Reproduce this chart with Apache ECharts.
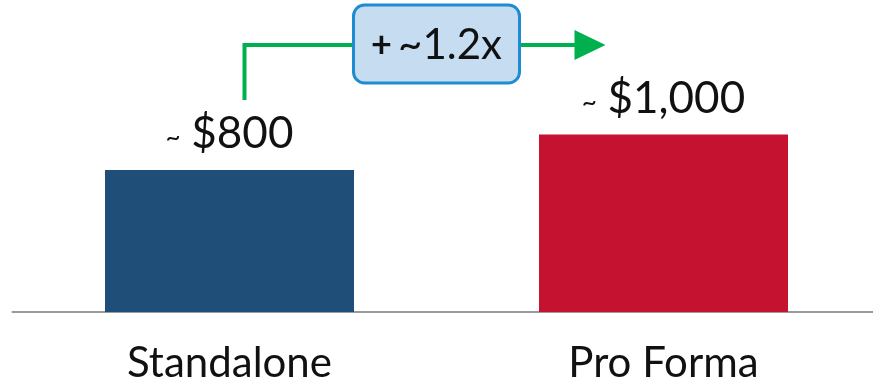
<!DOCTYPE html>
<html>
<head>
<meta charset="utf-8">
<script src="https://cdn.jsdelivr.net/npm/echarts@6.0.0/dist/echarts.min.js"></script>
<style>
  html, body { margin: 0; padding: 0; background: #fff; }
  #chart { width: 873px; height: 387px; }
</style>
</head>
<body>
<div id="chart"></div>
<script>
// data
const categories = ['Standalone', 'Pro Forma']
const values = [800, 1000]
const valueLabels = ['$800', '$1,000']
const barColors = ['#1F4E79', '#C41230']
const growthText = '~1.2x'

const FONT = 'Lato'

let myEcharts = echarts.init(document.getElementById('chart'))
myEcharts.setOption({
  animation: false,
  grid: { left: 12.5, width: 868, top: 28, bottom: 75, outerBoundsMode: 'none', containLabel: false },
  xAxis: {
    type: 'category',
    data: categories,
    axisLine: { lineStyle: { color: '#9a9a9a', width: 2 } },
    axisTick: { show: false },
    axisLabel: { fontFamily: FONT, fontSize: 42, color: '#111', margin: 30 }
  },
  yAxis: {
    type: 'value',
    min: 0,
    max: 1600,
    show: false,
    splitLine: { show: false }
  },
  series: [{
    type: 'bar',
    barWidth: 249,
    data: values.map((v, i) => ({ value: v, itemStyle: { color: barColors[i] } })),
    label: {
      show: true,
      position: 'top',
      distance: 14,
      formatter: p => '{t|~ }{v|' + valueLabels[p.dataIndex] + '}',
      rich: {
        t: { fontFamily: FONT, fontSize: 26, color: '#111', padding: [8, 4, 0, 0] },
        v: { fontFamily: FONT, fontSize: 44, color: '#111' }
      }
    }
  }]
})

// growth arrow, placed from the axis scale
const p0 = myEcharts.convertToPixel({ seriesIndex: 0 }, [0, values[0]])
const p1 = myEcharts.convertToPixel({ seriesIndex: 0 }, [1, values[1]])
const xStart = p0[0] + 15
const yStart = p0[1] - 70
const yLine = 45
const xTip = p1[0] - 58
const boxCx = (p0[0] + p1[0]) / 2 - 10
const green = '#00B04F'

myEcharts.setOption({
  graphic: [
    {
      type: 'polyline',
      shape: { points: [[xStart, yStart], [xStart, yLine], [xTip - 28, yLine]] },
      style: { stroke: green, lineWidth: 4, fill: null },
      z: 10
    },
    {
      type: 'polygon',
      shape: { points: [[xTip - 31, yLine - 15], [xTip, yLine], [xTip - 31, yLine + 15]] },
      style: { fill: green },
      z: 10
    },
    {
      type: 'rect',
      shape: { x: boxCx - 83, y: 5, width: 166, height: 78, r: 11 },
      style: { fill: '#C5DCF1', stroke: '#1E8CD0', lineWidth: 3 },
      z: 11
    },
    {
      type: 'text',
      x: boxCx,
      y: 45,
      style: {
        text: '{p|+}{s| }{v|' + growthText + '}',
        align: 'center',
        verticalAlign: 'middle',
        rich: {
          p: { fontFamily: FONT, fontSize: 36, fontWeight: 'bold', fill: '#111' },
          s: { fontFamily: FONT, fontSize: 24, fill: '#111' },
          v: { fontFamily: FONT, fontSize: 42, fill: '#111' }
        }
      },
      z: 12
    }
  ]
})
</script>
</body>
</html>
